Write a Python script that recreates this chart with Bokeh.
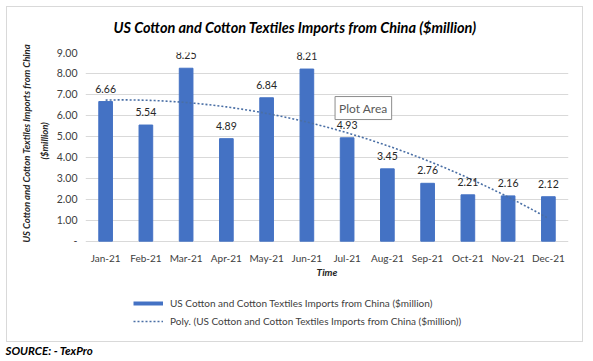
import numpy as np
from bokeh.plotting import figure
from bokeh.models import (ColumnDataSource, LabelSet, Label, FixedTicker, Legend,
                          LegendItem, FactorRange, Range1d, Title)
from bokeh.core.properties import value
from bokeh.embed import file_html
from bokeh.resources import INLINE

# ---- data ----
months = ["Jan-21", "Feb-21", "Mar-21", "Apr-21", "May-21", "Jun-21",
          "Jul-21", "Aug-21", "Sep-21", "Oct-21", "Nov-21", "Dec-21"]
imports = [6.66, 5.54, 8.25, 4.89, 6.84, 8.21, 4.93, 3.45, 2.76, 2.21, 2.16, 2.12]
y_ticks = [0, 1, 2, 3, 4, 5, 6, 7, 8, 9]
y_tick_labels = ["-", "1.00", "2.00", "3.00", "4.00", "5.00", "6.00", "7.00", "8.00", "9.00"]
series_name = "US Cotton and Cotton Textiles Imports from China ($million)"
trend_name = "Poly. (US Cotton and Cotton Textiles Imports from China ($million))"
title_text = "US Cotton and Cotton Textiles Imports from China ($million)"
ylabel_lines = ["US Cotton and Cotton Textiles Imports from China", "($million)"]
xlabel_text = "Time"
source_text = "SOURCE: - TexPro"

FONT = "Lato"
BAR = "#4472C4"
GRID = "#d9d9d9"
TXT = "#404040"

# layout (pixels): plot area top, zero line, bottom of the drawing frame
W, H = 584, 361
LEFT, RIGHT = 85, 568
TOP, ZERO, BOTTOM = 51, 241, 337
ppu = (ZERO - TOP) / 9.0
y_start = -(BOTTOM - ZERO) / ppu

p = figure(x_range=FactorRange(*months, range_padding=0), y_range=Range1d(y_start, 9),
           width=W, height=H, output_backend="svg", toolbar_location=None,
           x_axis_location=None,
           min_border_left=LEFT, min_border_right=W - RIGHT, min_border_top=TOP,
           min_border_bottom=H - BOTTOM, title=title_text)
p.outline_line_color = None
p.background_fill_color = "white"
p.border_fill_alpha = 0
# light grey outer chart box (drawn as CSS background lines behind the canvas)
g = "linear-gradient(#d9d9d9,#d9d9d9)"
p.styles = {
    "background-color": "white",
    "background-image": ",".join([g] * 4),
    "background-size": "577px 1px, 577px 1px, 1px 336px, 1px 336px",
    "background-position": "6px 6px, 6px 341px, 6px 6px, 582px 6px",
    "background-repeat": "no-repeat",
}

p.title.align = "left"
p.title.offset = 28
p.title.standoff = 33
p.title.text_font = FONT
p.title.text_font_size = "14.5px"
p.title.text_font_style = "bold italic"
p.title.text_color = "#000000"

src = ColumnDataSource(dict(month=months, val=imports, zero=[0] * len(months),
                            txt=[f"{v:.2f}" for v in imports]))
p.vbar(x="month", top="val", width=0.34, source=src, color=BAR)

p.add_layout(LabelSet(x="month", y="val", text="txt", source=src, y_offset=9,
                      text_align="center", text_baseline="alphabetic",
                      text_font=value(FONT), text_font_size="10.5px", text_color="#262626"))

# category labels under the zero line
p.add_layout(LabelSet(x="month", y="zero", text="month", source=src, y_offset=-17,
                      text_align="center", text_baseline="middle",
                      text_font=value(FONT), text_font_size="10px", text_color=TXT))
p.add_layout(Label(x=6.0, y=0, y_offset=-31, text=xlabel_text, text_align="center",
                   text_baseline="middle", text_font=FONT, text_font_size="10px",
                   text_font_style="bold italic", text_color="#262626"))

# polynomial (order 2) trendline computed from the series, as Excel does
xi = np.arange(1, len(imports) + 1)
coef = np.polyfit(xi, imports, 2)
xs = np.linspace(1, len(imports), 100)
trend = p.line(x=xs - 0.5, y=np.polyval(coef, xs), line_color="#4a6fa5",
               line_width=1.6, line_dash="2 2")
# legend swatch for the bars (line kept outside the visible range)
swatch = p.line(x=[0.5, 1.5], y=[-100, -100], line_color=BAR, line_width=4)

# y axis
p.yaxis.ticker = FixedTicker(ticks=y_ticks)
p.yaxis.major_label_overrides = {t: l for t, l in zip(y_ticks, y_tick_labels)}
p.yaxis.axis_line_color = None
p.yaxis.major_tick_line_color = None
p.yaxis.minor_tick_line_color = None
p.yaxis.major_tick_out = 0
p.yaxis.major_label_standoff = 8
p.yaxis.major_label_text_font = FONT
p.yaxis.major_label_text_font_size = "10.5px"
p.yaxis.major_label_text_color = TXT

p.ygrid.grid_line_color = GRID
p.xgrid.grid_line_color = None

# y axis title, two lines (rotated titles in the left panel)
p.add_layout(Title(text=ylabel_lines[1], align="left", offset=177, standoff=7,
                   text_font=FONT, text_font_size="9.5px", text_font_style="bold italic",
                   text_color="#262626"), "left")
p.add_layout(Title(text=ylabel_lines[0], align="left", offset=94, standoff=3,
                   text_font=FONT, text_font_size="9.5px", text_font_style="bold italic",
                   text_color="#262626"), "left")

legend = Legend(items=[LegendItem(label=series_name, renderers=[swatch]),
                       LegendItem(label=trend_name, renderers=[trend])],
                location=(48, BOTTOM - 329), orientation="vertical",
                border_line_color=None, background_fill_alpha=0,
                padding=0, margin=0, spacing=4, glyph_width=30, glyph_height=14,
                label_height=14, label_standoff=7,
                label_text_font=FONT, label_text_font_size="10px", label_text_color=TXT)
p.add_layout(legend)

# source line
p.add_layout(Title(text=source_text, align="left", offset=-80, standoff=10, text_font=FONT,
                   text_font_size="11.5px", text_font_style="bold italic",
                   text_color="#000000"), "below")

# "Plot Area" tooltip
p.add_layout(Label(x=6.2, y=6.35, text="Plot Area", text_baseline="middle",
                   text_font=FONT, text_font_size="12px", text_color="#595959",
                   background_fill_color="white", border_line_color="#8c8c8c",
                   padding=4))

open("out.html", "w").write(file_html(p, INLINE))
